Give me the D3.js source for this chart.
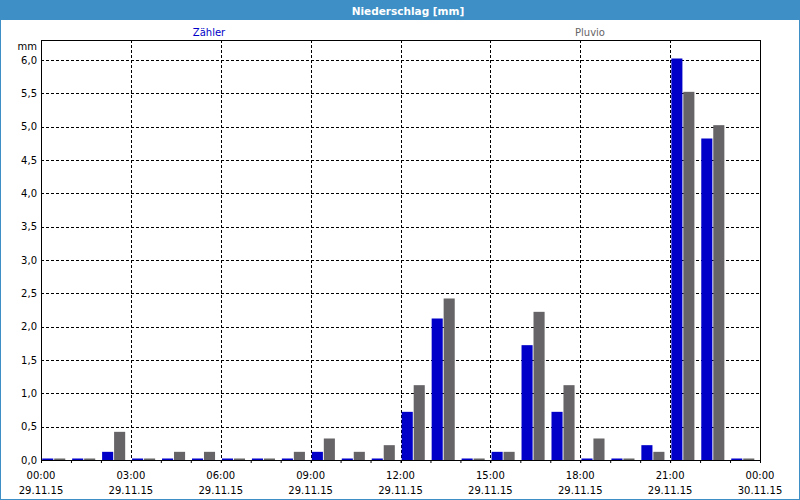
<!DOCTYPE html>
<html>
<head>
<meta charset="utf-8">
<script src="https://cdn.jsdelivr.net/npm/d3@7"></script>
<style>
  body { margin: 0; background: #fff; }
  svg { display: block; font-family: "DejaVu Sans", Verdana, sans-serif; }
</style>
</head>
<body>
<svg></svg>
<script>
// stündliche Niederschlagsmengen 29.11.15, 00:00 - 24:00
let hours = d3.range(24);
let zaehler = [0, 0, 0.1, 0, 0, 0, 0, 0, 0, 0.1, 0, 0, 0.7, 2.1, 0, 0.1, 1.7, 0.7, 0, 0, 0.2, 6.0, 4.8, 0];
let pluvio  = [0, 0, 0.4, 0, 0.1, 0.1, 0, 0, 0.1, 0.3, 0.1, 0.2, 1.1, 2.4, 0, 0.1, 2.2, 1.1, 0.3, 0, 0.1, 5.5, 5.0, 0];
let yTicks = d3.range(0, 6.01, 0.5);
let xTickHours = [0, 3, 6, 9, 12, 15, 18, 21, 24];

let width = 800;
let height = 500;
let pLeft = 41, pRight = 760, pTop = 40, pBottom = 460;

let svg = d3.select('svg').attr('width', width).attr('height', height);

let start = new Date(2015, 10, 29, 0, 0);
let end = new Date(2015, 10, 30, 0, 0);

let xScale = d3.scaleTime().domain([start, end]).range([pLeft, pRight]);
let yScale = d3.scaleLinear().domain([0, 6]).range([pBottom, pBottom - 400]);

let hourDate = h => d3.timeHour.offset(start, h);
let hourW = xScale(hourDate(1)) - xScale(hourDate(0));

// rahmen / titelleiste
svg.append('rect').attr('x', 0.5).attr('y', 0.5).attr('width', width - 1).attr('height', height - 1)
  .attr('fill', '#ffffff').attr('stroke', '#3d8fc6');
svg.append('rect').attr('x', 0).attr('y', 0).attr('width', width).attr('height', 20).attr('fill', '#3d8fc6');
svg.append('text').attr('x', 408).attr('y', 14.5).attr('text-anchor', 'middle')
  .attr('fill', '#fff').attr('font-weight', 'bold').attr('font-size', 10.5).text('Niederschlag [mm]');

// legende
svg.append('text').attr('x', 209).attr('y', 36).attr('text-anchor', 'middle')
  .attr('fill', '#0000c8').attr('font-size', 10).text('Zähler');
svg.append('text').attr('x', 590).attr('y', 36).attr('text-anchor', 'middle')
  .attr('fill', '#666466').attr('font-size', 10).text('Pluvio');

// gitter
svg.append('g').selectAll('line').data(yTicks.slice(1)).enter().append('line')
  .attr('x1', pLeft).attr('x2', pRight)
  .attr('y1', d => Math.round(yScale(d)) + 0.5).attr('y2', d => Math.round(yScale(d)) + 0.5)
  .attr('stroke', '#000').attr('stroke-dasharray', '3,2');
svg.append('g').selectAll('line').data(xTickHours.slice(1, -1)).enter().append('line')
  .attr('x1', d => Math.round(xScale(hourDate(d))) + 0.5).attr('x2', d => Math.round(xScale(hourDate(d))) + 0.5)
  .attr('y1', pTop).attr('y2', pBottom + 4)
  .attr('stroke', '#000').attr('stroke-dasharray', '3,2');

// balken
let bars = svg.append('g');
let barH = v => pBottom - yScale(v) + 1.5;
bars.selectAll('rect.z').data(hours).enter().append('rect')
  .attr('class', 'z')
  .attr('x', h => xScale(hourDate(h)) + hourW * 0.04)
  .attr('width', hourW * 0.37)
  .attr('y', h => pBottom - barH(zaehler[h]))
  .attr('height', h => barH(zaehler[h]))
  .attr('fill', '#0000c8');
bars.selectAll('rect.p').data(hours).enter().append('rect')
  .attr('class', 'p')
  .attr('x', h => xScale(hourDate(h)) + hourW * 0.44)
  .attr('width', hourW * 0.37)
  .attr('y', h => pBottom - barH(pluvio[h]))
  .attr('height', h => barH(pluvio[h]))
  .attr('fill', '#666466');

// achsen
let xAxis = d3.axisBottom(xScale)
  .ticks(d3.timeHour.every(1))
  .tickSize(3)
  .tickFormat('');
let gx = svg.append('g').attr('transform', 'translate(0,' + pBottom + ')').call(xAxis);
gx.select('.domain').remove();

let gy = svg.append('g').attr('transform', 'translate(' + pLeft + ',0)')
  .call(d3.axisLeft(yScale).tickValues(yTicks).tickSize(0).tickPadding(4)
    .tickFormat(d => d3.format('.1f')(d).replace('.', ',')));
gy.select('.domain').remove();
gy.selectAll('text').attr('font-size', 10).attr('font-family', '"DejaVu Sans", Verdana, sans-serif').attr('fill', '#000');
svg.append('text').attr('x', 37).attr('y', 50).attr('text-anchor', 'end').attr('font-size', 10).text('mm');

let xl = svg.append('g').selectAll('g').data(xTickHours).enter().append('g')
  .attr('transform', d => 'translate(' + xScale(hourDate(d)) + ',0)');
xl.append('text').attr('y', 478.5).attr('text-anchor', 'middle').attr('font-size', 10)
  .text(d => d3.timeFormat('%H:%M')(hourDate(d)));
xl.append('text').attr('y', 493.5).attr('text-anchor', 'middle').attr('font-size', 10)
  .text(d => d3.timeFormat('%d.%m.%y')(hourDate(d)));

// plot-rahmen
svg.append('rect').attr('x', pLeft + 0.5).attr('y', pTop + 0.5)
  .attr('width', pRight - pLeft).attr('height', pBottom - pTop)
  .attr('fill', 'none').attr('stroke', '#000');
</script>
</body>
</html>
